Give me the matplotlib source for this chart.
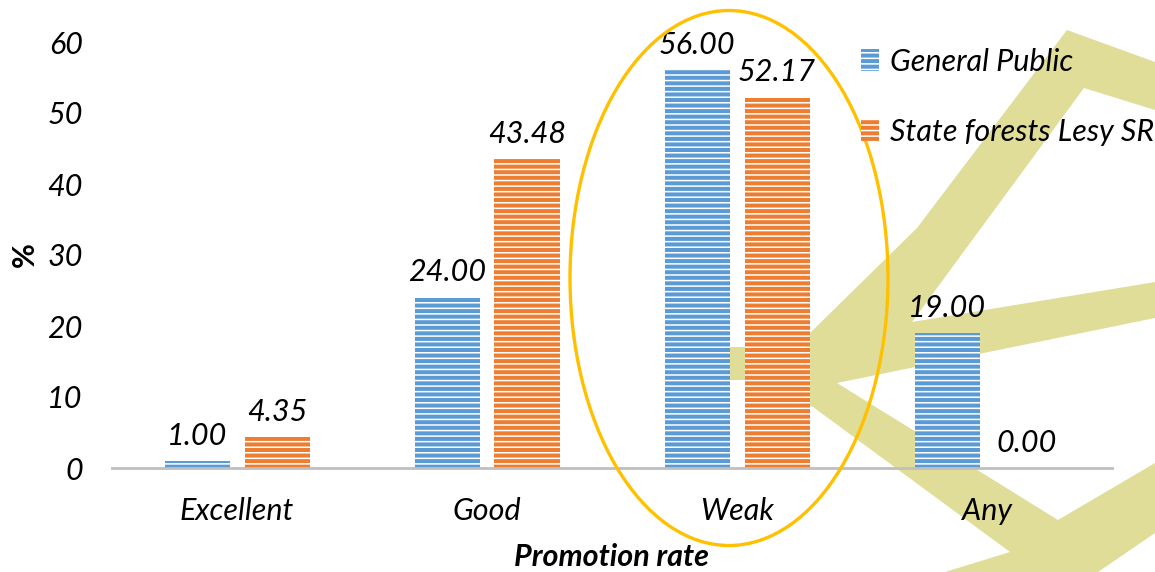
import numpy as np
import matplotlib
matplotlib.use('Agg')
import matplotlib.pyplot as plt
from matplotlib.patches import Polygon, Ellipse, Patch

categories = ['Excellent', 'Good', 'Weak', 'Any']
general_public = [1.00, 24.00, 56.00, 19.00]
state_forests = [4.35, 43.48, 52.17, 0.00]
series_names = ['General Public', 'State forests Lesy SR']
y_ticks = [0, 10, 20, 30, 40, 50, 60]

BLUE = '#5b9bd5'
ORANGE = '#ed7d31'
KHAKI = '#e0dd99'
GOLD = '#ffc000'
FS = 22

plt.rcParams['font.family'] = ['Lato', 'DejaVu Sans']
plt.rcParams['hatch.linewidth'] = 1.1

W, H = 1155, 572
fig = plt.figure(figsize=(W / 100, H / 100), dpi=100)

# background layer in pixel space for the watermark
bg = fig.add_axes([0, 0, 1, 1], zorder=0)
bg.set_xlim(0, W)
bg.set_ylim(H, 0)
bg.axis('off')
mark = [(1067, 30), (1155, 62), (1155, 110), (1084, 88), (912, 322),
        (1155, 282), (1155, 318), (837, 383), (1058, 520), (1155, 463),
        (1155, 533), (1098, 572), (945, 572), (1010, 552), (813, 407),
        (745, 380), (700, 380), (700, 347), (745, 347), (810, 333),
        (917, 228)]
bg.add_patch(Polygon(mark, closed=True, facecolor=KHAKI, edgecolor='none'))

ax = fig.add_axes([112 / W, 1 - 468 / H, 1000 / W, (468 - 42) / H], zorder=1)
ax.patch.set_visible(False)

x = np.arange(len(categories))
bw = 0.26
off = 0.16
b1 = ax.bar(x - off, general_public, bw, color=BLUE, edgecolor='white',
            linewidth=0, hatch='---', label=series_names[0], zorder=2)
b2 = ax.bar(x + off, state_forests, bw, color=ORANGE, edgecolor='white',
            linewidth=0, hatch='---', label=series_names[1], zorder=2)

for bars, vals in [(b1, general_public), (b2, state_forests)]:
    for r, v in zip(bars, vals):
        ax.annotate('%.2f' % v, (r.get_x() + r.get_width() / 2, v),
                    xytext=(0, 8), textcoords='offset points',
                    ha='center', va='bottom', fontsize=FS, style='italic')

ax.set_xlim(-0.5, len(categories) - 0.5)
ax.set_ylim(0, 60)
ax.set_yticks(y_ticks)
ax.set_yticklabels([str(t) for t in y_ticks], fontsize=FS, style='italic')
ax.set_xticks(x)
ax.set_xticklabels(categories, fontsize=FS, style='italic')
ax.tick_params(length=0)
ax.tick_params(axis='y', pad=21)
ax.tick_params(axis='x', pad=21)
for s in ['top', 'right', 'left']:
    ax.spines[s].set_visible(False)
ax.spines['bottom'].set_color('#bfbfbf')
ax.spines['bottom'].set_linewidth(2)

fig.text(25 / W, 1 - 255 / H, '%', rotation=90, fontsize=FS,
         fontweight='bold', ha='center', va='center')
fig.text(612 / W, 1 - 557 / H, 'Promotion rate', fontsize=FS,
         fontweight='bold', style='italic', ha='center', va='center')

handles = [Patch(facecolor=BLUE, edgecolor='white', linewidth=0, hatch='---'),
           Patch(facecolor=ORANGE, edgecolor='white', linewidth=0, hatch='---')]
leg = fig.legend(handles, series_names, loc='upper left',
                 bbox_to_anchor=(833 / W, 1 - 20 / H), frameon=False,
                 prop={'size': FS, 'style': 'italic'}, handlelength=0.6,
                 handleheight=0.7, handletextpad=0.35, labelspacing=1.4)

# highlight ring round the "Weak" group
top = fig.add_axes([0, 0, 1, 1], zorder=3)
top.set_xlim(0, W)
top.set_ylim(H, 0)
top.axis('off')
top.add_patch(Ellipse((729, 278), 318, 535, fill=False, edgecolor=GOLD,
                      linewidth=2.4))

fig.savefig('out.png', dpi=100)
